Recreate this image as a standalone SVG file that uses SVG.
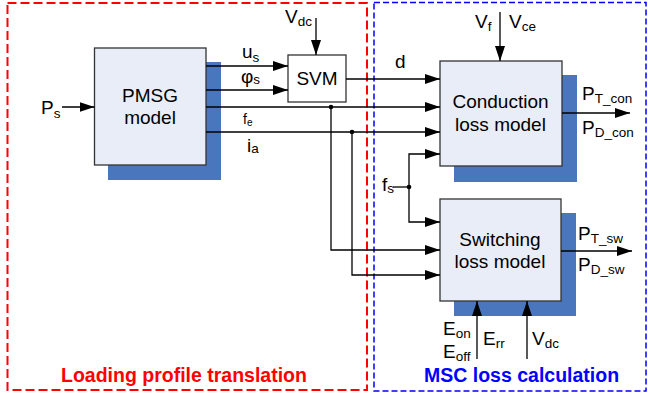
<svg xmlns="http://www.w3.org/2000/svg" width="648" height="396" viewBox="0 0 648 396">
<defs>
<marker id="ah" markerUnits="userSpaceOnUse" markerWidth="16" markerHeight="11" refX="15" refY="5" orient="auto">
<path d="M0,0 L15,5 L0,10 z" fill="#000"/>
</marker>
<style>
text{font-family:"Liberation Sans",Arial,sans-serif;fill:#000}
.m{font-size:19px}
.s{font-size:13.5px}
.box{fill:#e8edf7;stroke:#333;stroke-width:1.3}
.sh{fill:#4a76be}
.ln{fill:none;stroke:#000;stroke-width:1.3}
.ar{fill:none;stroke:#000;stroke-width:1.3;marker-end:url(#ah)}
.t{font-size:19.5px;font-weight:bold}
</style>
</defs>
<rect width="648" height="396" fill="#fff"/>
<g id="region-loading">
<rect x="7.5" y="3" width="359.5" height="387" fill="none" stroke="#ff0000" stroke-width="2" stroke-dasharray="9,4"/>
<text class="t" x="61" y="382" style="fill:#ff0000">Loading profile translation</text>
</g>
<g id="region-msc">
<rect x="374" y="2.5" width="272" height="388.5" fill="none" stroke="#0000ff" stroke-width="1.5" stroke-dasharray="6,3"/>
<text class="t" x="424" y="382" style="fill:#0000ff">MSC loss calculation</text>
</g>
<g id="pmsg">
<rect class="sh" x="108" y="62" width="113" height="118"/>
<rect class="box" x="94.5" y="48" width="111.5" height="117"/>
<text class="m" x="150" y="101.5" text-anchor="middle">PMSG</text>
<text class="m" x="150" y="124" text-anchor="middle">model</text>
</g>
<g id="svm">
<rect x="288" y="55" width="58" height="47" fill="#fff" stroke="#333" stroke-width="1.3"/>
<text class="m" x="317" y="85" text-anchor="middle">SVM</text>
</g>
<g id="conduction">
<rect class="sh" x="454" y="75" width="123" height="107"/>
<rect class="box" x="440" y="61" width="122" height="105"/>
<text class="m" x="500.5" y="108" text-anchor="middle">Conduction</text>
<text class="m" x="500.5" y="130.5" text-anchor="middle">loss model</text>
</g>
<g id="switching">
<rect class="sh" x="454" y="213" width="122" height="103"/>
<rect class="box" x="440" y="199" width="121" height="102"/>
<text class="m" x="500" y="245.5" text-anchor="middle">Switching</text>
<text class="m" x="500" y="268" text-anchor="middle">loss model</text>
</g>
<g id="connectors">
<path class="ar" d="M62,107 H94.5"/>
<path class="ar" d="M206,66 H288"/>
<path class="ar" d="M206,90 H288"/>
<path class="ar" d="M206,107 H440"/>
<path class="ar" d="M206,132 H440"/>
<path class="ar" d="M316,18 V55"/>
<path class="ar" d="M346,79 H440"/>
<path class="ar" d="M500,12 V61"/>
<path class="ar" d="M331,107 V250 H440"/>
<path class="ar" d="M352,132 V275 H440"/>
<path class="ln" d="M393,187 H409"/>
<path class="ar" d="M409,187 V154 H440"/>
<path class="ar" d="M409,187 V222 H440"/>
<path class="ar" d="M562,113 H630"/>
<path class="ar" d="M561,251 H632"/>
<path class="ar" d="M477,359 V301"/>
<path class="ar" d="M527,359 V301"/>
<circle cx="331" cy="107" r="2.3" fill="#000"/>
<circle cx="352" cy="132" r="2.3" fill="#000"/>
<circle cx="409" cy="187" r="2.3" fill="#000"/>
</g>
<g id="labels">
<text class="m" x="41" y="114">P<tspan class="s" dy="4">s</tspan></text>
<text class="m" x="242" y="58">u<tspan class="s" dy="4">s</tspan></text>
<text class="m" x="241" y="83">φ<tspan class="s" dy="1">s</tspan></text>
<text x="243" y="124" style="font-size:14px">f<tspan dy="2" style="font-size:10px">e</tspan></text>
<text class="m" x="247" y="152">i<tspan class="s" dy="1">a</tspan></text>
<text class="m" x="285" y="23">V<tspan class="s" dy="3">dc</tspan></text>
<text class="m" x="395" y="68">d</text>
<text class="m" x="475" y="28">V<tspan class="s" dy="3">f</tspan></text>
<text class="m" x="509" y="28">V<tspan class="s" dy="3">ce</tspan></text>
<text class="m" x="382" y="191">f<tspan class="s" dy="2">s</tspan></text>
<text class="m" x="582" y="100">P<tspan class="s" dy="3">T_con</tspan></text>
<text class="m" x="582" y="134">P<tspan class="s" dy="3">D_con</tspan></text>
<text class="m" x="578" y="240">P<tspan class="s" dy="3">T_sw</tspan></text>
<text class="m" x="578" y="271">P<tspan class="s" dy="3">D_sw</tspan></text>
<text class="m" x="443" y="335">E<tspan class="s" dy="3">on</tspan></text>
<text class="m" x="443" y="358">E<tspan class="s" dy="3">off</tspan></text>
<text class="m" x="483" y="345">E<tspan class="s" dy="3">rr</tspan></text>
<text class="m" x="532" y="345">V<tspan class="s" dy="3">dc</tspan></text>
</g>
</svg>
